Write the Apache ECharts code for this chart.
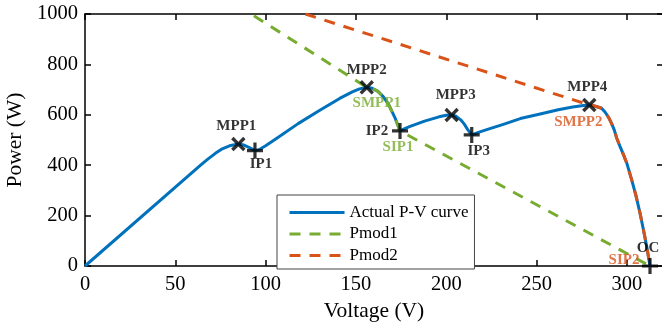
<!DOCTYPE html>
<html>
<head>
<meta charset="utf-8">
<script src="https://cdn.jsdelivr.net/npm/echarts@6/dist/echarts.min.js"></script>
<style>html,body{margin:0;padding:0;background:#fff}#c{width:662px;height:332px}</style>
</head>
<body>
<div id="c"></div>
<script>
// Actual P-V curve
const volt  = [0, 64, 68, 72, 76, 80, 84.9, 88, 91, 94.1, 97, 100, 106, 118, 130, 141, 148, 152, 156, 159, 162, 165, 168, 171.5, 174.4, 177, 180, 188, 196, 200, 203, 205.5, 208, 210, 212, 214.1, 217, 222, 232, 241, 252, 262, 270, 276, 279.2, 281, 283.5, 286, 288, 290, 291.5, 293, 294.4, 296, 298, 300, 302.7, 305, 307.3, 309, 311, 312.8];
const power = [0, 400, 424, 446, 465, 477, 484, 480, 470, 458, 464, 477, 506, 565, 618, 665, 691, 703, 709, 705, 694, 673, 642, 590, 536, 545, 554, 575, 592, 598, 599, 594, 580, 563, 540, 520, 528, 540, 563, 585, 603, 620, 631, 637, 639, 637, 632, 626, 610, 588, 566, 540, 507, 478, 444, 407, 341, 280, 209, 150, 77, 0];
// Pmod1 and Pmod2
const pmod1V = [93.5, 156, 159, 162, 165, 168, 171.5, 174.4, 312.8];
const pmod1P = [993, 709, 705, 694, 673, 642, 590, 536, 0];
const pmod2V = [122, 279.2, 281, 283.5, 286, 288, 290, 291.5, 293, 294.4, 296, 298, 300, 302.7, 305, 307.3, 309, 311, 312.8];
const pmod2P = [1000, 639, 637, 632, 626, 610, 588, 566, 540, 507, 478, 444, 407, 341, 280, 209, 150, 77, 0];
// Marked points
const mppV = [84.9, 156, 203, 279.2];
const mppP = [484, 709, 599, 639];
const mppNames = ['MPP1', 'MPP2', 'MPP3', 'MPP4'];
const ipV = [94.1, 174.4, 214.1, 312.8];
const ipP = [458, 536, 520, 0];
const ipNames = ['IP1', 'IP2', 'IP3', 'OC'];
const sV = [156, 174.4, 279.2, 312.8];
const sP = [709, 536, 639, 0];
const sNames = ['SMPP1', 'SIP1', 'SMPP2', 'SIP2'];
const seriesNames = ['Actual P-V curve', 'Pmod1', 'Pmod2'];
const xTicks = [0, 50, 100, 150, 200, 250, 300];
const yTicks = [0, 200, 400, 600, 800, 1000];

const BLUE = '#0072BD', GREEN = '#77AC30', ORANGE = '#D95319';
const FONT = '"Liberation Serif", "Times New Roman", serif';
const zip = (a, b) => a.map((v, i) => [v, b[i]]);

const mppOff = [[-2, -18], [0, -17], [4, -20], [-2, -18]];
const ipOff = [[6, 14], [-23, 0], [7, 16], [-2, -18]];
const sOff = [[10, 16], [-2, 16], [-11, 17], [-26, -6]];
const sColor = [GREEN, GREEN, ORANGE, ORANGE];

const PLUS = 'path://M4,0H6V4H10V6H6V10H4V6H0V4H4Z';

const annoLabel = {
  show: true, position: 'inside', color: '#000', fontFamily: FONT,
  fontWeight: 'bold', fontSize: 15
};

function axisCommon() {
  return {
    axisLine: { onZero: false, lineStyle: { color: '#000', width: 1.5 } },
    axisTick: { inside: true, length: 6, lineStyle: { color: '#000', width: 1.5 } },
    splitLine: { show: false }
  };
}

const chart = echarts.init(document.getElementById('c'), null, { renderer: 'canvas' });
chart.setOption({
  animation: false,
  backgroundColor: '#fff',
  grid: { left: 85, top: 14, width: 578, height: 252, containLabel: false, outerBoundsMode: 'none' },
  legend: {
    orient: 'vertical', left: 277, top: 195,
    data: seriesNames,
    padding: [9, 6, 5, 11],
    itemWidth: 55, itemHeight: 16, itemGap: 4.5,
    itemStyle: { opacity: 0 },
    lineStyle: { width: 3 },
    borderColor: '#444', borderWidth: 1, backgroundColor: '#fff',
    textStyle: { fontFamily: FONT, fontSize: 17, color: '#000', lineHeight: 16 }
  },
  xAxis: [
    Object.assign(axisCommon(), {
      type: 'value', min: 0, max: 320, interval: 50, position: 'bottom',
      name: 'Voltage (V)', nameLocation: 'middle', nameGap: 32,
      nameTextStyle: { fontFamily: FONT, fontSize: 21.5, color: '#000' },
      axisLabel: { fontFamily: FONT, fontSize: 20.5, color: '#000', margin: 8, showMaxLabel: false,
        formatter: v => xTicks.includes(v) ? String(v) : '' }
    }),
    Object.assign(axisCommon(), {
      type: 'value', min: 0, max: 320, interval: 50, position: 'top',
      axisLabel: { show: false }
    })
  ],
  yAxis: [
    Object.assign(axisCommon(), {
      type: 'value', min: 0, max: 1000, interval: 200, position: 'left',
      name: 'Power (W)', nameLocation: 'middle', nameGap: 53,
      nameTextStyle: { fontFamily: FONT, fontSize: 21.5, color: '#000' },
      axisLabel: { fontFamily: FONT, fontSize: 20.5, color: '#000', margin: 7,
        formatter: v => yTicks.includes(v) ? String(v) : '' }
    }),
    Object.assign(axisCommon(), {
      type: 'value', min: 0, max: 1000, interval: 200, position: 'right',
      axisLabel: { show: false }
    })
  ],
  series: [
    {
      name: seriesNames[0], type: 'line', data: zip(volt, power),
      symbol: 'none', smooth: false,
      lineStyle: { color: BLUE, width: 3, join: 'round' }, itemStyle: { color: BLUE }, z: 2
    },
    {
      name: seriesNames[1], type: 'line', data: zip(pmod1V, pmod1P),
      symbol: 'none', smooth: false,
      lineStyle: { color: GREEN, width: 3, type: [11, 9] }, itemStyle: { color: GREEN }, z: 3
    },
    {
      name: seriesNames[2], type: 'line', data: zip(pmod2V, pmod2P),
      symbol: 'none', smooth: false,
      lineStyle: { color: ORANGE, width: 3, type: [11, 9] }, itemStyle: { color: ORANGE }, z: 3
    },
    {
      type: 'scatter', clip: false, z: 10,
      symbol: PLUS, symbolSize: 17, symbolRotate: 45,
      itemStyle: { color: '#000' },
      data: mppV.map((v, i) => ({ value: [v, mppP[i]], name: mppNames[i],
        label: Object.assign({}, annoLabel, { formatter: mppNames[i], offset: mppOff[i] }) }))
    },
    {
      type: 'scatter', clip: false, z: 10,
      symbol: PLUS, symbolSize: 16,
      itemStyle: { color: '#000' },
      data: ipV.map((v, i) => ({ value: [v, ipP[i]], name: ipNames[i],
        label: Object.assign({}, annoLabel, { formatter: ipNames[i], offset: ipOff[i] }) }))
    },
    {
      type: 'scatter', clip: false, z: 11,
      symbol: 'circle', symbolSize: 1,
      itemStyle: { color: 'rgba(0,0,0,0)' },
      data: sV.map((v, i) => ({ value: [v, sP[i]], name: sNames[i],
        label: Object.assign({}, annoLabel, { formatter: sNames[i], offset: sOff[i], color: sColor[i] }) }))
    }
  ]
});
</script>
</body>
</html>
